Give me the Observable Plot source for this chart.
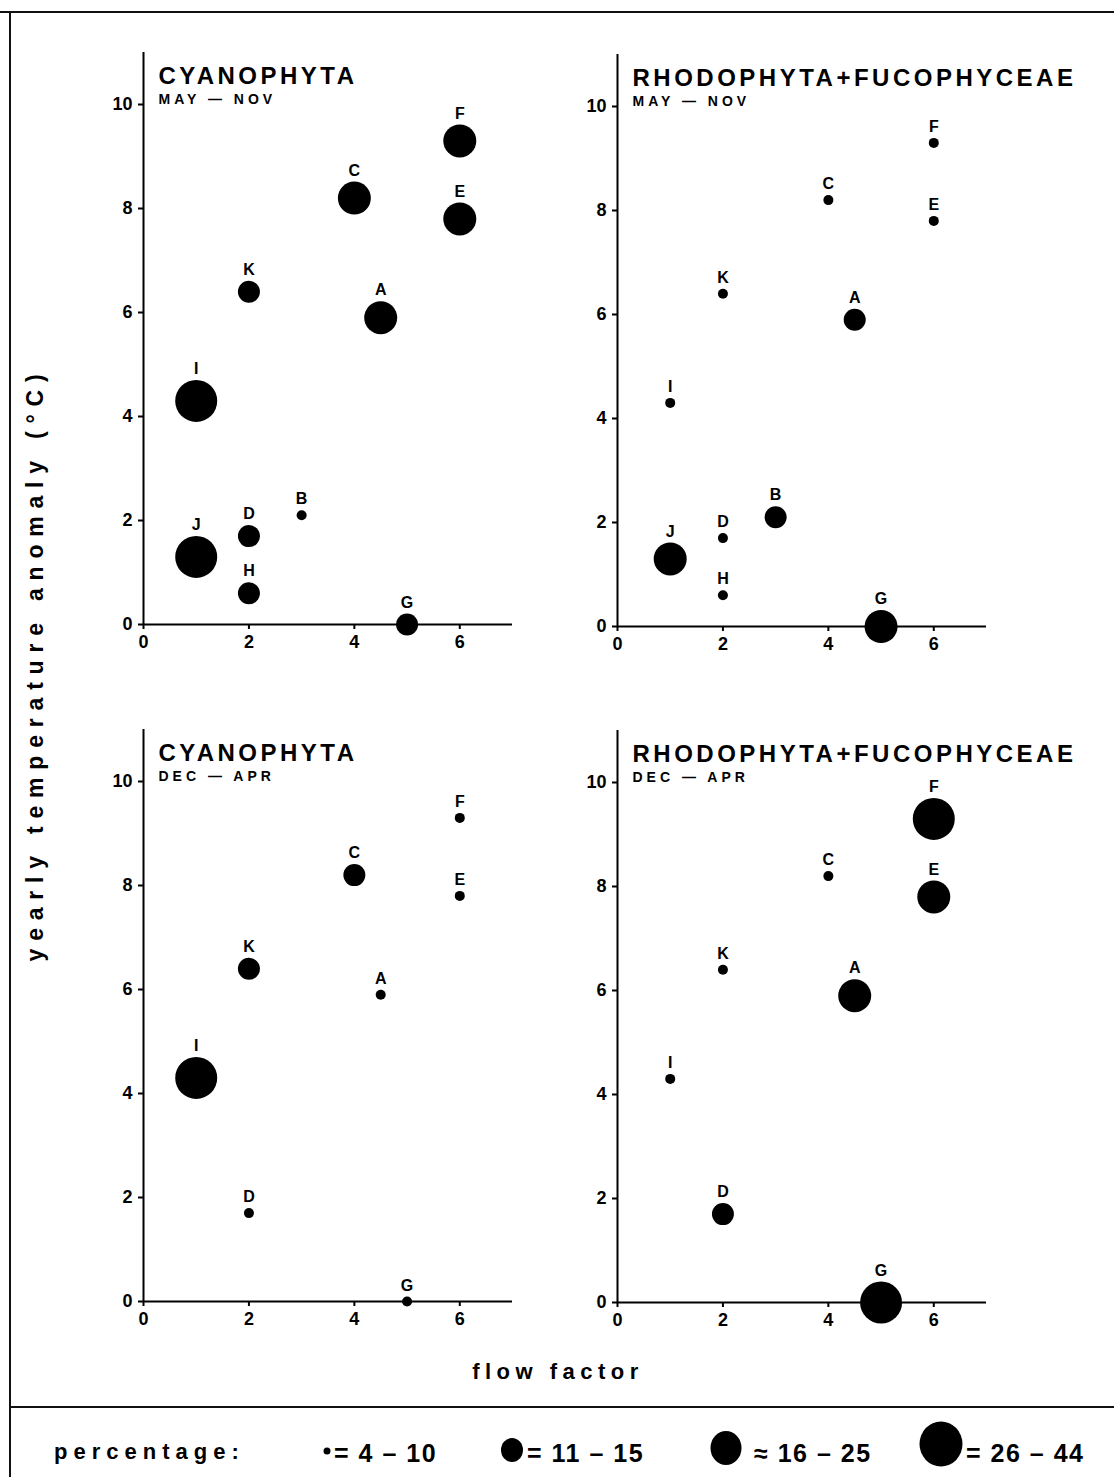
<!DOCTYPE html>
<html>
<head>
<meta charset="utf-8">
<script src="https://cdn.jsdelivr.net/npm/d3@7"></script>
<script src="https://cdn.jsdelivr.net/npm/@observablehq/plot@0.6"></script>
<style>
  body { margin: 0; background: #fff; }
  #page { position: relative; width: 1114px; height: 1477px; overflow: hidden; background: #fff;
          font-family: "Liberation Sans", Arial, Helvetica, sans-serif; font-weight: bold; color: #000; }
  .panel { position: absolute; }
  .line { position: absolute; background: #111; }
  .lbl { position: absolute; white-space: nowrap; line-height: 1; transform: translateY(-50%); }
</style>
</head>
<body>
<div id="page"></div>
<script>
// ---- data ----
const sites       = ["A", "B", "C", "D", "E", "F", "G", "H", "I", "J", "K"];
const flowFactor  = [4.5, 3, 4, 2, 6, 6, 5, 2, 1, 1, 2];
const tempAnomaly = [5.9, 2.1, 8.2, 1.7, 7.8, 9.3, 0, 0.6, 4.3, 1.3, 6.4];

// percentage class per site (1: 4-10, 2: 11-15, 3: 16-25, 4: 26-44; null = absent)
const cyanoMayNov = [3, 1, 3, 2, 3, 3, 2, 2, 4, 4, 2];
const rhodoMayNov = [2, 2, 1, 1, 1, 1, 3, 1, 1, 3, 1];
const cyanoDecApr = [1, null, 2, 1, 1, 1, 1, null, 4, null, 2];
const rhodoDecApr = [3, null, 1, 2, 3, 4, 4, null, 1, null, 1];

const panelTitles  = ["CYANOPHYTA", "RHODOPHYTA+FUCOPHYCEAE", "CYANOPHYTA", "RHODOPHYTA+FUCOPHYCEAE"];
const panelSeasons = ["MAY — NOV", "MAY — NOV", "DEC — APR", "DEC — APR"];
const classLabels  = ["= 4 – 10", "= 11 – 15", "≈ 16 – 25", "= 26 – 44"];
const xTicks = [0, 2, 4, 6];
const yTicks = [0, 2, 4, 6, 8, 10];
const yTitle = "yearly temperature anomaly (°C)";
const xTitle = "flow factor";
const legendTitle = "percentage:";

// ---- styling / layout ----
const RADIUS = {1: 5, 2: 11, 3: 16.5, 4: 21};
const page = document.getElementById("page");

function addLine(x, y, w, h) {
  const d = document.createElement("div");
  d.className = "line";
  Object.assign(d.style, {left: x + "px", top: y + "px", width: w + "px", height: h + "px"});
  page.appendChild(d);
}
function addLabel(text, x, y, size, spacing, extra) {
  const d = document.createElement("div");
  d.className = "lbl";
  d.textContent = text;
  Object.assign(d.style, {left: x + "px", top: y + "px", fontSize: size + "px", letterSpacing: spacing + "px"}, extra || {});
  page.appendChild(d);
  return d;
}

function panel(sizes, title, season, left, top) {
  const data = sites.map((s, i) => ({site: s, x: flowFactor[i], y: tempAnomaly[i], cls: sizes[i]}))
                    .filter(d => d.cls != null);
  const mL = 60, mR = 20, mT = 10, mB = 45;
  const plotW = 369, plotH = 572;
  const chart = Plot.plot({
    width: mL + plotW + mR,
    height: mT + plotH + mB,
    marginLeft: mL, marginRight: mR, marginTop: mT, marginBottom: mB,
    x: {domain: [0, 7], axis: null},
    y: {domain: [0, 11], axis: null},
    r: {type: "identity"},
    style: {fontFamily: "Liberation Sans, Arial, Helvetica, sans-serif", fontWeight: "bold",
            fontSize: "17px", background: "transparent", overflow: "visible", color: "#000"},
    marks: [
      Plot.ruleX([0], {y1: 0, y2: 11, strokeWidth: 2, stroke: "#000"}),
      Plot.ruleY([0], {x1: 0, x2: 7, strokeWidth: 2, stroke: "#000"}),
      Plot.axisX({ticks: xTicks, tickFormat: d => String(d), label: null, tickSize: 5, tickPadding: 6,
                  strokeWidth: 2, fontSize: 18, fontWeight: "bold"}),
      Plot.axisY({ticks: yTicks, tickFormat: d => String(d), label: null, tickSize: 5, tickPadding: 6,
                  strokeWidth: 2, fontSize: 18, fontWeight: "bold"}),
      Plot.dot(data, {x: "x", y: "y", r: d => RADIUS[d.cls], fill: "#000"}),
      ...[1, 2, 3, 4].map(c => Plot.text(data.filter(d => d.cls === c), {
        x: "x", y: "y", text: "site", dy: -(RADIUS[c] + 11), fontSize: 16, fontWeight: "bold", fill: "#000"
      })),
      Plot.text([title], {frameAnchor: "top-left", textAnchor: "start", lineAnchor: "middle",
        dx: 15, dy: 24, fontSize: 24, fontWeight: "bold", fill: "#000"}),
      Plot.text([season], {frameAnchor: "top-left", textAnchor: "start", lineAnchor: "middle",
        dx: 15, dy: 47, fontSize: 14, fontWeight: "bold", fill: "#000"})
    ]
  });
  // letter-spacing on the panel headings
  d3.select(chart).selectAll("text")
    .filter(function () { return this.textContent === title; })
    .style("letter-spacing", "3.5px");
  d3.select(chart).selectAll("text")
    .filter(function () { return this.textContent === season; })
    .style("letter-spacing", "4px");
  const wrap = document.createElement("div");
  wrap.className = "panel";
  wrap.style.left = (left - mL) + "px";
  wrap.style.top = (top - mT) + "px";
  wrap.appendChild(chart);
  page.appendChild(wrap);
}

// frame lines
addLine(0, 11, 1114, 2);
addLine(9, 11, 2, 1466);
addLine(9, 1406, 1105, 2);

// panels: left = x pixel of value 0, top = y pixel of value 11
panel(cyanoMayNov, panelTitles[0], panelSeasons[0], 143, 52);
panel(rhodoMayNov, panelTitles[1], panelSeasons[1], 617, 54);
panel(cyanoDecApr, panelTitles[2], panelSeasons[2], 143, 729);
panel(rhodoDecApr, panelTitles[3], panelSeasons[3], 617, 730);

// axis titles
addLabel(yTitle, 35, 664, 23, 7.8, {transform: "translate(-50%,-50%) rotate(-90deg)"});
addLabel(xTitle, 558, 1372, 22, 5.5, {transform: "translate(-50%,-50%)"});

// legend
addLabel(legendTitle, 54, 1452, 22, 6);
const legendDots = [
  {cx: 327, cy: 1451, rx: 3.5, ry: 3.5, tx: 334},
  {cx: 512, cy: 1450, rx: 11, ry: 12, tx: 527},
  {cx: 726, cy: 1448, rx: 15.5, ry: 17, tx: 754},
  {cx: 941, cy: 1444, rx: 21.5, ry: 22.5, tx: 966}
];
const svgNS = "http://www.w3.org/2000/svg";
const lsvg = document.createElementNS(svgNS, "svg");
lsvg.setAttribute("width", 1114); lsvg.setAttribute("height", 1477);
Object.assign(lsvg.style, {position: "absolute", left: 0, top: 0, pointerEvents: "none"});
legendDots.forEach((d, i) => {
  const e = document.createElementNS(svgNS, "ellipse");
  e.setAttribute("cx", d.cx); e.setAttribute("cy", d.cy);
  e.setAttribute("rx", d.rx); e.setAttribute("ry", d.ry);
  e.setAttribute("fill", "#000");
  lsvg.appendChild(e);
  addLabel(classLabels[i], d.tx, 1453, 25, 1.5);
});
page.appendChild(lsvg);
</script>
</body>
</html>
